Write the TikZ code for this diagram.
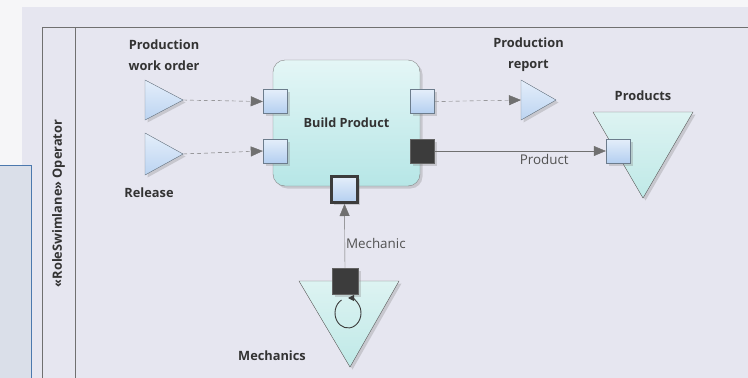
\documentclass[tikz,border=0pt]{standalone}
\usepackage{fontspec}
\setmainfont{Open Sans}
\usetikzlibrary{arrows.meta, shadows, positioning}

\definecolor{pagebg}{HTML}{F6F6F8}
\definecolor{lanebg}{HTML}{E6E6F0}
\definecolor{laneline}{HTML}{707070}
\definecolor{sidebox}{HTML}{DADFE9}
\definecolor{sideline}{HTML}{4C79AE}
\definecolor{porttop}{HTML}{E4EEFA}
\definecolor{portbot}{HTML}{B4CFF0}
\definecolor{portline}{HTML}{6C7C8C}
\definecolor{darkport}{HTML}{3C3C3C}
\definecolor{acttop}{HTML}{E4F6F6}
\definecolor{actbot}{HTML}{B6E6E6}
\definecolor{pooltop}{HTML}{DDF3F2}
\definecolor{poolbot}{HTML}{BFE9E7}
\definecolor{txt}{HTML}{333333}

\tikzset{
  lbl/.style={font=\fontsize{12.8}{21}\selectfont\bfseries, text=txt, align=center, inner sep=0pt},
  flowlbl/.style={font=\fontsize{13.4}{15}\selectfont, text=txt!85, inner sep=1pt},
  shade/.style={drop shadow={shadow xshift=2.5pt, shadow yshift=-2.5pt, opacity=.3}},
  port/.style={draw=portline, top color=porttop, bottom color=portbot, minimum size=24pt, inner sep=0pt, shade},
  darkbox/.style={draw=darkport!80, fill=darkport, minimum size=24pt, inner sep=0pt, shade},
  param/.style={draw=portline!90, top color=porttop, bottom color=portbot!90, shade},
  pool/.style={draw=laneline, top color=pooltop, bottom color=poolbot, shade},
  tip/.style={-{Triangle[length=12pt, width=10pt]}, color=darkport!85},
  dataflow/.style={tip, dashed, dash pattern=on 4pt off 3pt, draw=laneline},
  objflow/.style={tip, draw=laneline}
}

\begin{document}
\begin{tikzpicture}[x=1pt, y=-1pt]
\useasboundingbox (0,0) rectangle (748,378);
\clip (0,0) rectangle (748,378);
\fill[pagebg] (0,0) rectangle (748,378);
\fill[lanebg] (22,7) rectangle (760,390);

% swimlane
\draw[laneline] (42,390) -- (42,27) -- (760,27);
\draw[laneline] (75,27) -- (75,390);
\node[rotate=90, font=\fontsize{12.8}{14}\selectfont\bfseries, text=txt] (lane) at (58.5,203.5) {«RoleSwimlane» Operator};

\filldraw[fill=sidebox, draw=sideline] (-2,165) rectangle (31,390);

% activity
\node[draw=laneline!85, rounded corners=12pt, top color=acttop, bottom color=actbot,
      minimum width=147pt, minimum height=126pt, shade] (build) at (346.5,123) {};
\node[lbl, font=\fontsize{12.7}{14}\selectfont\bfseries] at (build.center) {Build Product};

\node[port] (inwo) at (275,101.5) {};
\node[port] (inrel) at (275,151) {};
\node[port] (outrep) at (422.5,101.5) {};
\node[darkbox] (outprod) at (422.5,151) {};
\node[draw=darkport, line width=3pt, top color=porttop, bottom color=portbot, minimum size=26pt, inner sep=0pt, shade] (inmech) at (344.5,189.5) {};

% parameters
\filldraw[param] (145,80) -- (183,100) coordinate (wo) -- (145,120) -- cycle;
\node[lbl] (wolbl) at (164,55) {Production\\work order};
\filldraw[param] (145,133) -- (183,154) coordinate (rel) -- (145,175) -- cycle;
\node[lbl] (rellbl) at (149,193) {Release};
\filldraw[param] (521,120) -- (521,80) -- (556,100) -- cycle;
\coordinate (rep) at (521,100);
\node[lbl] (replbl) at (528.5,55) {Production\\report};

% pools
\filldraw[pool] (593,112) -- (693,112) -- (643,198) -- cycle;
\node[lbl] (prodlbl) at (643,96) {Products};
\node[port] (prodin) at (618,151) {};

\filldraw[pool] (299,281) -- (399,281) -- (350,367) -- cycle;
\node[lbl] (mechlbl) at (272,356) {Mechanics};
\node[darkbox, minimum size=26pt] (mechout) at (345,281.5) {};
\draw[darkport, line width=.9pt, -{Triangle[length=6pt, width=6pt]}] (341.5,300) arc[start angle=240, end angle=-90, x radius=13, y radius=15];

% flows
\draw[dataflow] (wo) -- (inwo.west);
\draw[dataflow] (rel) -- (inrel.west);
\draw[dataflow] (outrep.east) -- (rep);
\draw[objflow] (outprod.east) -- (prodin.west) node[flowlbl, pos=.64, below=2.5pt] {Product};
\draw[objflow] (mechout.north) -- (inmech.south) node[flowlbl, pos=.38, right=0pt] {Mechanic};

\end{tikzpicture}
\end{document}
